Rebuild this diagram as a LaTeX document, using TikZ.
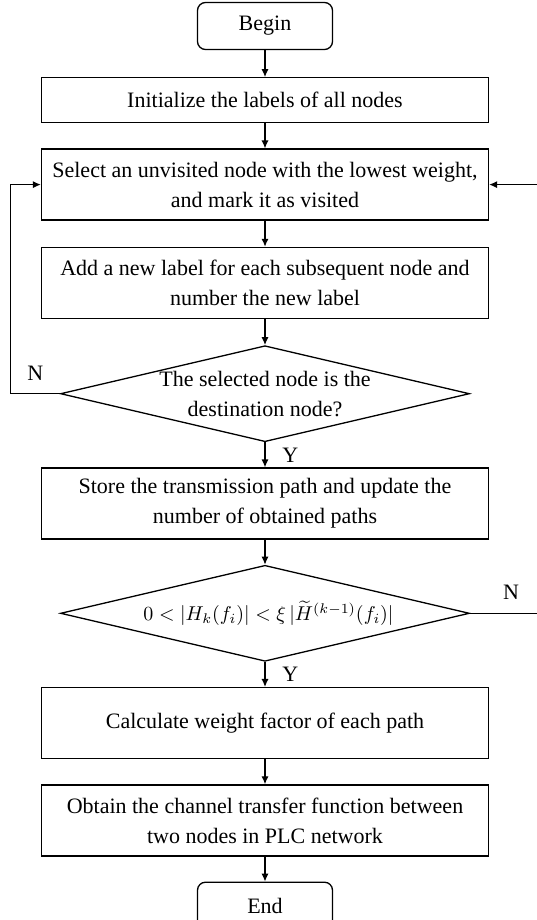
\documentclass[tikz,border=0pt]{standalone}
\usepackage{fontspec}
\setmainfont{Liberation Serif}
\usepackage{tikz}
\usetikzlibrary{
  arrows.meta,
  positioning,
  shapes.geometric,
  calc
}
\tikzset{
  base/.style={
    draw,
    line width=0.65pt,
    align=center,
    font=\fontsize{11}{15}\selectfont
  },
  terminal/.style={
    base,
    rounded corners=4pt,
    minimum width=67.5pt,
    minimum height=23.5pt
  },
  process/.style={
    base,
    minimum width=223.5pt,
    minimum height=35.5pt,
    inner sep=2pt
  },
  decision/.style={
    base,
    diamond,
    aspect=4.27,
    inner sep=-2pt,
    minimum width=204.5pt,
    minimum height=48pt
  },
  flow/.style={
    -{Latex[length=4pt,width=3.6pt]},
    line width=0.65pt
  },
  answer/.style={
    font=\fontsize{11}{12}\selectfont
  }
}

\begin{document}
\begin{tikzpicture}[node distance=12.5pt]

  \useasboundingbox (-132.5pt,13pt) rectangle (135.5pt,-447pt);

  \node[terminal] (begin) {Begin};

  \node[
    process,
    minimum height=22.5pt,
    below=13.5pt of begin
  ] (init) {Initialize the labels of all nodes};

  \node[
    process,
    below=of init
  ] (select) {
    Select an unvisited node with the lowest weight,\\
    and mark it as visited
  };

  \node[
    process,
    below=13pt of select
  ] (addlabel) {
    Add a new label for each subsequent node and\\
    number the new label
  };

  \node[
    decision,
    below=13pt of addlabel
  ] (dest) {
    The selected node is the\\
    destination node?
  };

  \node[
    process,
    below=of dest
  ] (store) {
    Store the transmission path and update the\\
    number of obtained paths
  };

  \node[
    decision,
    font=\fontsize{10}{12}\selectfont,
    below=of store
  ] (cond) {
    \hspace{6pt}$0<|H_{k}(f_{i})|<\xi\,|{\widetilde{H}}^{(k-1)}(f_{i})|$
  };

  \node[
    process,
    below=of cond
  ] (weight) {Calculate weight factor of each path};

  \node[
    process,
    below=of weight
  ] (obtain) {
    Obtain the channel transfer function between\\
    two nodes in PLC network
  };

  \node[
    terminal,
    below=of obtain
  ] (end) {End};

  % loop rails
  \coordinate (leftrail) at ($(dest.west)+(-24.5pt,0)$);
  \coordinate (rightrail) at ($(cond.east)+(34pt,0)$);

  \draw[flow] (begin) -- (init);
  \draw[flow] (init) -- (select);
  \draw[flow] (select) -- (addlabel);
  \draw[flow] (addlabel) -- (dest);
  \draw[flow] (dest) -- node[answer, midway, right=5pt] {Y} (store);
  \draw[flow] (store) -- (cond);
  \draw[flow] (cond) -- node[answer, midway, right=5pt] {Y} (weight);
  \draw[flow] (weight) -- (obtain);
  \draw[flow] (obtain) -- (end);

  \draw[flow]
  (dest.west) -- node[answer, midway, above=3pt] {N} (leftrail)
  |- (select.west);

  \draw[flow]
  (cond.east) -- node[answer, pos=0.6, above=3pt] {N} (rightrail)
  |- (select.east);

\end{tikzpicture}
\end{document}
